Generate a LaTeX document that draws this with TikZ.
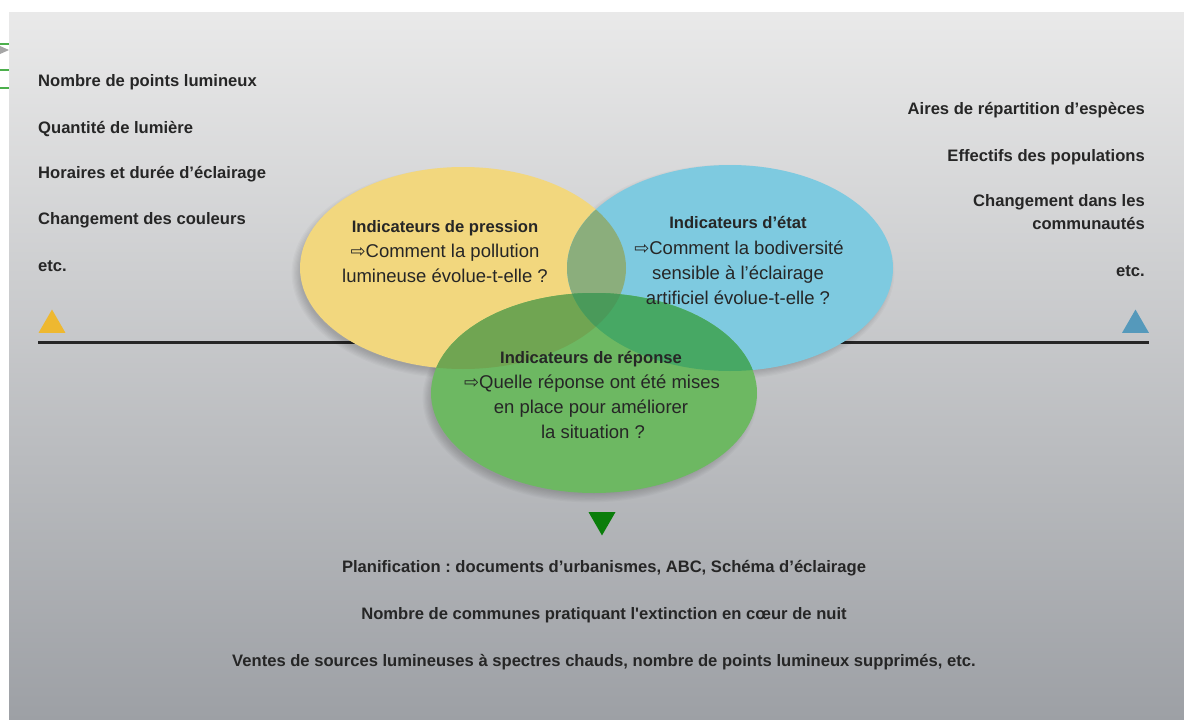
\documentclass[tikz,border=0pt]{standalone}
\usepackage{fontspec}
\setmainfont{Liberation Sans}
\newfontfamily\symfont{DejaVu Sans}
\usetikzlibrary{shapes.geometric}
\frenchspacing
\definecolor{txt}{HTML}{262626}
\definecolor{cyel}{HTML}{F2D77E}
\definecolor{cblu}{HTML}{7ECAE0}
\definecolor{cgrn}{HTML}{6DB862}
\definecolor{cyb}{HTML}{8BAE7C}
\definecolor{cyg}{HTML}{70A552}
\definecolor{cbg}{HTML}{47A864}
\definecolor{cybg}{HTML}{4A9A5A}
\definecolor{tyel}{HTML}{EEB830}
\definecolor{tblu}{HTML}{5599BB}
\definecolor{tgrn}{HTML}{0A7D0A}
\newcommand{\bfs}{\fontsize{16.6}{20}\bfseries\selectfont}
\newcommand{\rgs}{\fontsize{18.5}{22}\selectfont}
\newcommand{\arr}{{\symfont\fontsize{18}{20}\selectfont ⇨}}
\tikzset{
  lbl/.style={text=txt, inner sep=0pt, font=\bfs},
  ell/.style={text=txt, inner sep=0pt, font=\rgs, anchor=base},
  ellh/.style={text=txt, inner sep=0pt, font=\bfs, anchor=base},
  tri/.style={regular polygon, regular polygon sides=3, inner sep=0pt, minimum size=31pt},
}
\newcommand{\softshadow}[4]{% cx cy rx ry
  \foreach \k in {0,...,7}{
    \fill[black, opacity=0.022] (#1,#2) ellipse [x radius={#3+\k*1.2pt-4pt}, y radius={#4+\k*1.2pt-4pt}];
  }}
\begin{document}
\begin{tikzpicture}[x=1pt,y=-1pt]
\useasboundingbox (0,0) rectangle (1184,720);
\fill[white] (0,0) rectangle (1184,720);
% background panel
\shade[top color=black!8.5, bottom color={rgb,255:red,157;green,160;blue,165}] (9,12) rectangle (1184,720);
% left-edge fragments
\draw[green!55!black!70, line width=1.2pt] (0,44) -- (9,44);
\draw[green!55!black!70, line width=1.2pt] (0,70) -- (9,70);
\draw[green!55!black!70, line width=1.2pt] (0,88) -- (9,88);
\fill[black!35] (0,46) -- (9,50) -- (0,54) -- cycle;
% horizontal line
\coordinate (la) at (38,342);
\coordinate (lb) at (1149,342);
\draw[line width=3pt, black!85] (la) -- (lb);
% shadows
\softshadow{459}{273}{163pt}{101pt}
\softshadow{590}{398}{163pt}{100pt}
\softshadow{727}{272}{163pt}{103pt}
% ellipses
\node[ellipse, fill=cyel, minimum width=326pt, minimum height=202pt, inner sep=0pt] (ey) at (463,268) {};
\node[ellipse, fill=cblu, minimum width=326pt, minimum height=206pt, inner sep=0pt] (eb) at (730,268) {};
\node[ellipse, fill=cgrn, minimum width=326pt, minimum height=200pt, inner sep=0pt] (eg) at (594,393) {};
% overlaps
\begin{scope}
  \clip (463,268) ellipse [x radius=163pt, y radius=101pt];
  \fill[cyb] (730,268) ellipse [x radius=163pt, y radius=103pt];
  \fill[cyg] (594,393) ellipse [x radius=163pt, y radius=100pt];
\end{scope}
\begin{scope}
  \clip (730,268) ellipse [x radius=163pt, y radius=103pt];
  \fill[cbg] (594,393) ellipse [x radius=163pt, y radius=100pt];
  \clip (594,393) ellipse [x radius=163pt, y radius=100pt];
  \fill[cybg] (463,268) ellipse [x radius=163pt, y radius=101pt];
\end{scope}
% ellipse texts
\node[ellh] (y1) at (445,232) {Indicateurs de pression};
\node[ell] (y2) at (445,257) {\arr Comment la pollution};
\node[ell] (y3) at (445,282) {lumineuse évolue-t-elle ?};
\node[ellh] (b1) at (738,228) {Indicateurs d’état};
\node[ell] (b2) at (739,254) {\arr Comment la bodiversité};
\node[ell] (b3) at (738,279) {sensible à l’éclairage};
\node[ell] (b4) at (738,304) {artificiel évolue-t-elle ?};
\node[ellh] (g1) at (591,363) {Indicateurs de réponse};
\node[ell] (g2) at (592,388) {\arr Quelle réponse ont été mises};
\node[ell] (g3) at (591,413) {en place pour améliorer};
\node[ell] (g4) at (593,438) {la situation ?};
% triangles
\node[tri, fill=tyel, anchor=south] (ty) at (52,333) {};
\node[tri, fill=tblu, anchor=south] (tb) at (1135.5,333) {};
\node[tri, fill=tgrn, shape border rotate=180, anchor=north] (tg) at (602,512) {};
% left texts
\node[lbl, anchor=base west] (l1) at (38,86) {Nombre de points lumineux};
\node[lbl, anchor=base west] (l2) at (38,133) {Quantité de lumière};
\node[lbl, anchor=base west] (l3) at (38,178) {Horaires et durée d’éclairage};
\node[lbl, anchor=base west] (l4) at (38,224) {Changement des couleurs};
\node[lbl, anchor=base west] (l5) at (38,271) {etc.};
% right texts
\node[lbl, anchor=base east] (r1) at (1145,114) {Aires de répartition d’espèces};
\node[lbl, anchor=base east] (r2) at (1145,161) {Effectifs des populations};
\node[lbl, anchor=base east] (r3) at (1145,206) {Changement dans les};
\node[lbl, anchor=base east] (r4) at (1145,229) {communautés};
\node[lbl, anchor=base east] (r5) at (1145,276) {etc.};
% bottom texts
\node[lbl, anchor=base] (d1) at (604,572) {Planification : documents d’urbanismes, ABC, Schéma d’éclairage};
\node[lbl, anchor=base] (d2) at (604,619) {Nombre de communes pratiquant l\textquotesingle extinction en cœur de nuit};
\node[lbl, anchor=base] (d3) at (604,666) {Ventes de sources lumineuses à spectres chauds, nombre de points lumineux supprimés, etc.};
\end{tikzpicture}
\end{document}
